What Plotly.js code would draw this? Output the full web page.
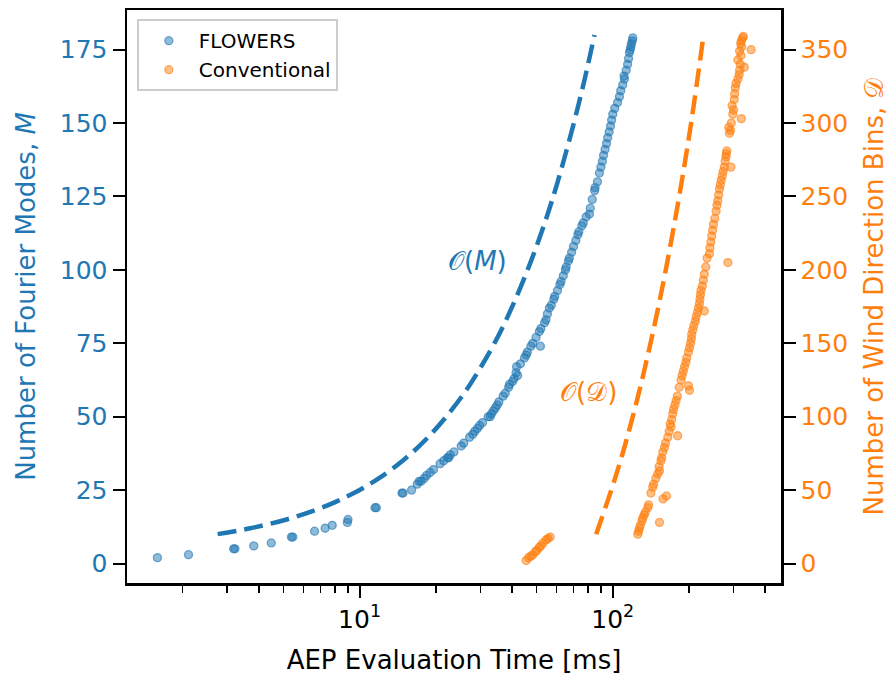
<!DOCTYPE html>
<html>
<head>
<meta charset="utf-8">
<script src="https://cdn.plot.ly/plotly-3.0.1.min.js"></script>
<style>html,body{margin:0;padding:0;background:#fff;}#chart{width:891px;height:675px;}</style>
</head>
<body>
<div id="chart"></div>
<script>
// FLOWERS: number of Fourier modes M vs AEP evaluation time [ms]
const flowersM = [2,3,5,5,6,7,9,9,11,12,13,14,15,19,19,24,24,25,27,28,28,29,30,31,32,34,35,36,36,37,38,40,41,43,44,45,46,47,48,50,50,51,52,53,54,55,57,58,60,61,62,63,64,65,67,68,70,71,72,74,75,74,77,79,80,82,83,85,87,88,90,91,93,95,96,98,100,101,103,104,106,108,110,112,113,115,116,118,119,121,124,127,128,130,133,135,137,139,141,143,145,147,149,151,153,155,157,159,161,163,165,166,168,170,172,174,175,176,177,178,179];
const flowersT = [1.59,2.11,3.18,3.22,3.82,4.48,5.38,5.45,6.64,7.31,7.8,8.95,9.0,11.5,11.65,14.7,14.85,16.05,16.9,17.2,17.5,18.0,18.4,19.0,19.6,20.8,21.5,22.2,22.5,22.8,23.6,25.2,25.8,27.2,28.0,28.5,29.2,29.8,30.6,32.2,32.8,33.2,33.8,34.4,35.0,35.5,36.9,37.6,38.8,39.1,40.2,40.8,42.1,41.5,41.7,43.2,44.8,45.5,46.0,47.5,48.3,51.8,49.8,51.3,52.0,53.8,54.5,55.2,56.2,57.2,58.5,59.0,60.5,61.8,62.5,63.8,65.0,65.5,66.8,67.4,68.8,70.0,71.5,72.8,73.5,75.5,76.5,78.5,80.9,81.5,83.0,84.8,85.2,87.0,88.6,89.8,91.0,92.0,93.2,94.5,95.5,96.8,98.0,99.0,100.0,101.8,104.5,106.3,107.5,109.5,111.2,110.8,113.0,114.5,115.5,116.4,117.2,118.0,118.5,119.5,120.0];

// Conventional: number of wind direction bins D vs AEP evaluation time [ms]
const convD = [2,4,5,6,8,9,11,12,14,16,17,18,20,22,24,26,28,29,31,33,35,38,40,44,46,48,52,54,58,61,63,66,70,72,76,79,82,86,87,90,93,95,98,102,105,108,111,114,118,120,121,125,128,131,134,137,140,144,147,150,153,156,159,162,165,168,172,171,174,177,180,183,186,189,193,197,202,205,208,211,215,219,223,227,231,235,240,244,247,251,255,258,261,264,267,270,270,274,277,279,281,293,295,297,300,303,306,309,312,316,320,324,327,330,333,336,338,340,343,346,349,350,352,354,356,358,359];
const convT = [45.5,46.5,47.5,48.3,49.5,50.2,51.3,52.0,53.0,54.5,55.5,56.6,125.6,126.5,127.5,128.5,153,130.5,131.4,133,134.5,137.5,138.5,158,163,141.5,143.9,145,148,150.5,153,152.5,155,156,157.6,160,161.5,165,180.5,167,170,168.5,171,172.6,174,176,178,180,201,183,199,186.3,188,190,192,194.5,196,199,201,203,204.5,205,207,209,212,213.5,230,216,218,220,221,222,223,226,228,230,233,285,236,241,242,244,246,248,250,253,256,258,260,262,264,266,268,271,273,276,293,278,280,281,282,289,292,287,294,322,298,300,296,302,303,305,307,312,316,317,331,319,312,321,317,352,323,320,322,326,328];

// Guide lines
const guideM_M = [10,12,15,18,21,24,27,30,35,40,45,50,58,66,75,85,100,115,130,150,165,180];
const guideM_T = [2.75,3.7,5.15,6.6,8.05,9.5,10.95,12.4,14.8,17.2,19.6,22.0,25.9,29.7,34.1,38.9,46.1,53.4,60.6,70.2,77.5,84.7];
const guideD_D = [20,60,100,150,200,250,300,359];
const guideD_T = [86,103,120,141,162,183,204,228];

const xMajorVals = [10,100];
const xMajorText = ['10<sup>1</sup>','10<sup>2</sup>'];
const xMinorVals = [2,3,4,5,6,7,8,9,20,30,40,50,60,70,80,90,200,300,400];
const yLeftTicks = [0,25,50,75,100,125,150,175];
const yRightTicks = [0,50,100,150,200,250,300,350];

const BLUE = '#1f77b4', ORANGE = '#ff7f0e';
const FONT = 'DejaVu Sans';

const traces = [
  {x: flowersT, y: flowersM, type:'scatter', mode:'markers', name:'FLOWERS', yaxis:'y',
   marker:{size:8, color:'rgba(31,119,180,0.5)', line:{color:'rgba(31,119,180,0.6)', width:1.3}}},
  {x: convT, y: convD, type:'scatter', mode:'markers', name:'Conventional', yaxis:'y2',
   marker:{size:8, color:'rgba(255,127,14,0.5)', line:{color:'rgba(255,127,14,0.6)', width:1.3}}},
  {x: guideM_T, y: guideM_M, type:'scatter', mode:'lines', showlegend:false, yaxis:'y',
   line:{color:BLUE, width:4.5, dash:'19px,8px', shape:'spline'}},
  {x: guideD_T, y: guideD_D, type:'scatter', mode:'lines', showlegend:false, yaxis:'y2',
   line:{color:ORANGE, width:4.5, dash:'19px,8px', shape:'spline'}}
];

const axisCommon = {showline:true, linecolor:'black', linewidth:2.5, showgrid:false, zeroline:false,
  ticks:'outside', ticklen:12, tickwidth:2, tickcolor:'black'};

const layout = {
  width:891, height:675,
  margin:{l:127, r:110, t:10, b:92, pad:0},
  paper_bgcolor:'white', plot_bgcolor:'white',
  font:{family:FONT, size:25, color:'black'},
  showlegend:true,
  legend:{x:0.015, y:0.984, xanchor:'left', yanchor:'top', bgcolor:'rgba(255,255,255,0.9)',
    bordercolor:'#cccccc', borderwidth:2, font:{size:20, family:FONT}, itemwidth:50},
  xaxis: Object.assign({}, axisCommon, {
    type:'log', range:[Math.log10(1.206), Math.log10(462)], mirror:true,
    tickmode:'array', tickvals:xMajorVals, ticktext:xMajorText,
    minor:{tickmode:'array', tickvals:xMinorVals, ticks:'outside', ticklen:7, tickwidth:1.5, tickcolor:'black', showgrid:false},
    title:{text:'AEP Evaluation Time [ms]', font:{size:26}, standoff:20}
  }),
  yaxis: Object.assign({}, axisCommon, {
    range:[-6.64,188.5], tickmode:'array', tickvals:yLeftTicks,
    tickfont:{color:BLUE},
    title:{text:'Number of Fourier Modes, <i>M</i>', font:{size:26, color:BLUE}, standoff:17}
  }),
  yaxis2: Object.assign({}, axisCommon, {
    overlaying:'y', side:'right', range:[-13.28,377], tickmode:'array', tickvals:yRightTicks,
    tickfont:{color:ORANGE},
    title:{text:'Number of Wind Direction Bins, 𝒟', font:{size:26, color:ORANGE}, standoff:18}
  }),
  annotations:[
    {x:Math.log10(29.2), y:103, xref:'x', yref:'y', text:'𝒪(<i>M</i>)', showarrow:false,
     font:{size:26, color:BLUE, family:FONT}},
    {x:Math.log10(80.2), y:58.4, xref:'x', yref:'y', text:'𝒪(𝒟)', showarrow:false,
     font:{size:26, color:ORANGE, family:FONT}}
  ]
};

Plotly.newPlot('chart', traces, layout, {displayModeBar:false, staticPlot:true});
</script>
</body>
</html>
